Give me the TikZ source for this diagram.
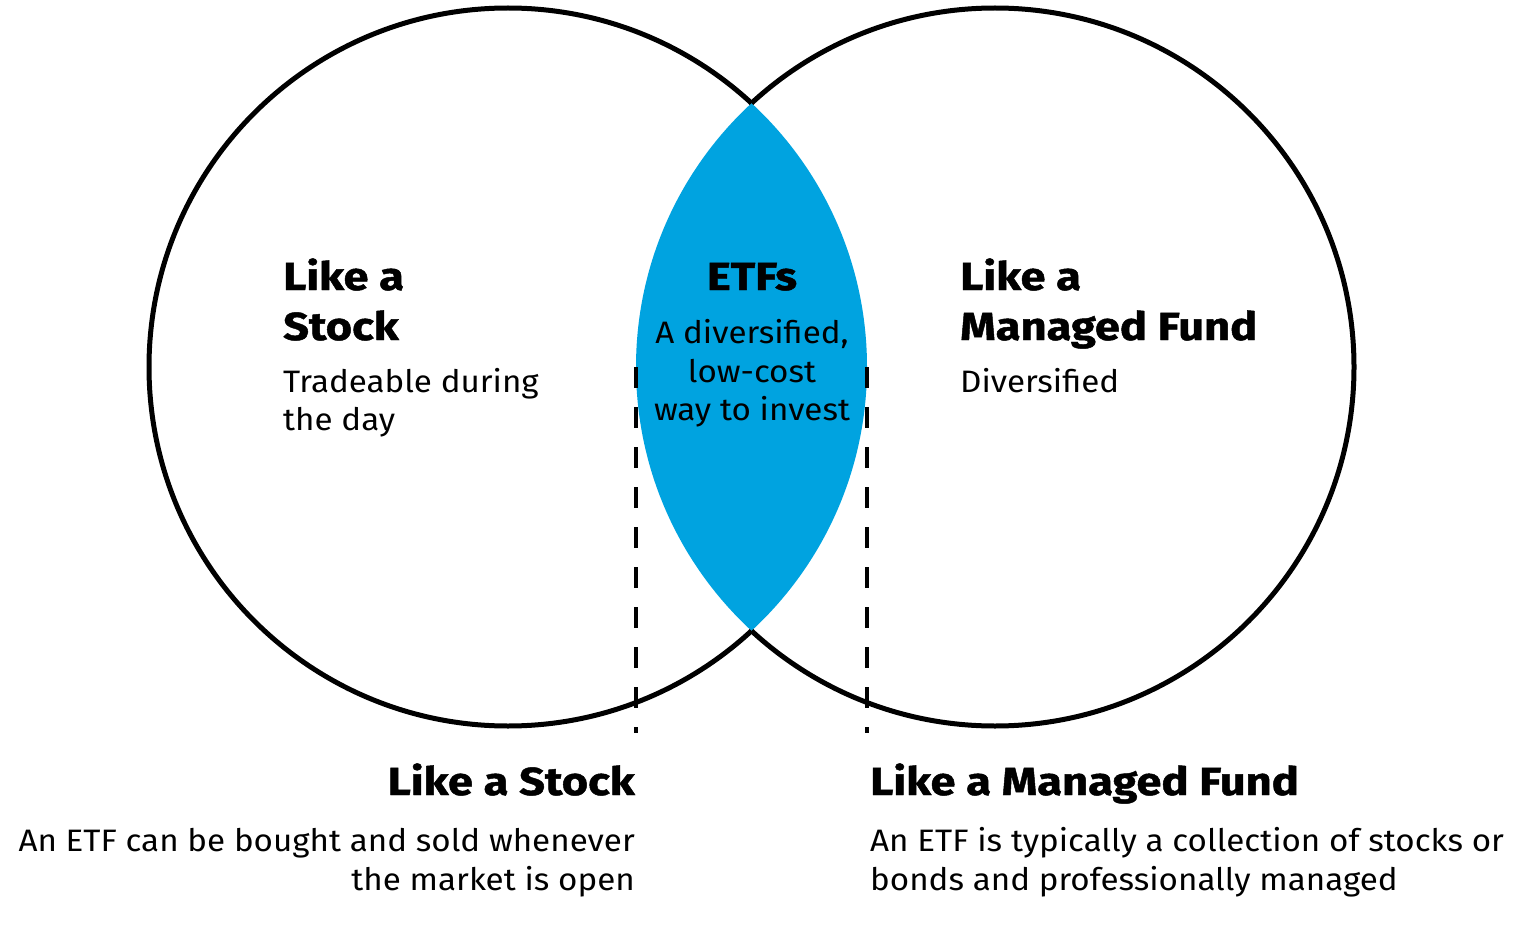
\documentclass[tikz,border=0pt]{standalone}
\usepackage{fontspec}
\setmainfont{Fira Sans}
\newfontfamily\headfont[FakeStretch=1.16,FakeBold=1.2]{Fira Sans}
\newfontfamily\bodyfont[FakeStretch=1.07]{Fira Sans}
\definecolor{etfblue}{HTML}{00A3E0}
\begin{document}
\begin{tikzpicture}[x=1pt,y=-1pt,
  ring/.style={line width=5pt,black},
  guide/.style={line width=3.4pt,black,dash pattern=on 21pt off 19pt},
  head/.style={inner sep=0pt,font=\headfont\fontsize{39}{50}\selectfont\bfseries},
  body/.style={inner sep=0pt,font=\bodyfont\fontsize{31}{38}\selectfont},
]
\useasboundingbox[fill=white] (0,0) rectangle (1526,928);
\coordinate (cl) at (508,367);
\coordinate (cr) at (995,367);
% lens
\begin{scope}
  \clip (cl) circle[radius=359pt];
  \fill[etfblue] (cr) circle[radius=359pt];
\end{scope}
% outer arcs only
\begin{scope}[even odd rule]
  \clip (-10,-10) rectangle (1536,938) (cr) circle[radius=359pt];
  \draw[ring] (cl) circle[radius=359pt];
\end{scope}
\begin{scope}[even odd rule]
  \clip (-10,-10) rectangle (1536,938) (cl) circle[radius=359pt];
  \draw[ring] (cr) circle[radius=359pt];
\end{scope}
% dashed guides
\coordinate (g1a) at (636,367); \coordinate (g1b) at (636,733);
\coordinate (g2a) at (867,367); \coordinate (g2b) at (867,733);
\draw[guide] (g1a) -- (g1b);
\draw[guide] (g2a) -- (g2b);
% left circle text
\node[head,anchor=base west] (ls1) at (283,290) {Like a};
\node[head,anchor=base west] (ls2) at (283,340) {Stock};
\node[body,anchor=base west] (ls3) at (283,392) {Tradeable during};
\node[body,anchor=base west] (ls4) at (283,430) {the day};
% centre text
\node[head,anchor=base] (e1) at (752,290) {ETFs};
\node[body,anchor=base] (e2) at (752,343) {A diversified,};
\node[body,anchor=base] (e3) at (752,382) {low-cost};
\node[body,anchor=base] (e4) at (752,420) {way to invest};
% right circle text
\node[head,anchor=base west] (r1) at (960,290) {Like a};
\node[head,anchor=base west] (r2) at (960,340) {Managed Fund};
\node[body,anchor=base west] (r3) at (960,392) {Diversified};
% bottom left
\node[head,anchor=base east] (bl1) at (635,795) {Like a Stock};
\node[body,anchor=base east] (bl2) at (635,851) {An ETF can be bought and sold whenever};
\node[body,anchor=base east] (bl3) at (635,890) {the market is open};
% bottom right
\node[head,anchor=base west] (br1) at (870,795) {Like a Managed Fund};
\node[body,anchor=base west] (br2) at (870,851) {An ETF is typically a collection of stocks or};
\node[body,anchor=base west] (br3) at (870,890) {bonds and professionally managed};
\end{tikzpicture}
\end{document}
